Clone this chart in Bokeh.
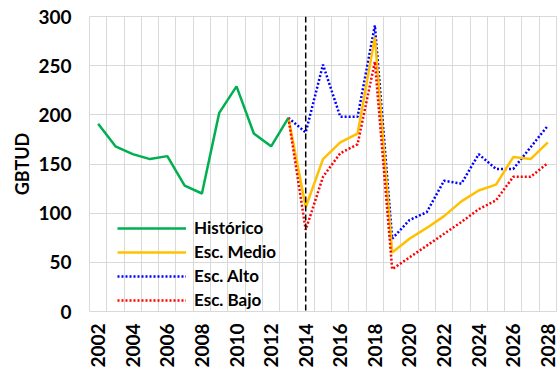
import math
from bokeh.plotting import figure
from bokeh.models import (ColumnDataSource, FixedTicker, Legend, LegendItem, Span, Range1d)
from bokeh.embed import file_html
from bokeh.resources import INLINE

# ---- data ----
hist_years = list(range(2002, 2014))
historico = [191, 168, 160, 155, 158, 128, 120, 202, 229, 181, 168, 197]

esc_years = list(range(2013, 2029))
esc_medio = [197, 106, 155, 172, 181, 279, 60, 74, 85, 97, 112, 123, 129, 157, 155, 172]
esc_alto = [197, 182, 251, 198, 198, 291, 74, 93, 101, 133, 130, 160, 145, 145, 167, 189]
esc_bajo = [197, 83, 137, 161, 170, 254, 43, 55, 67, 79, 91, 104, 113, 137, 137, 151]

x_ticks = list(range(2002, 2029, 2))
y_ticks = [0, 50, 100, 150, 200, 250, 300]
split_year = 2014

FONT = "Lato"

p = figure(frame_width=467, frame_height=295, output_backend="svg", toolbar_location=None,
           x_range=Range1d(2001.5, 2028.5), y_range=Range1d(0, 300),
           min_border_left=89, min_border_right=3, min_border_top=16, min_border_bottom=54)
p.outline_line_color = "#d9d9d9"
p.background_fill_color = "white"
p.border_fill_color = "white"

# axes
p.xaxis.ticker = FixedTicker(ticks=x_ticks)
p.yaxis.ticker = FixedTicker(ticks=y_ticks)
p.xgrid.ticker = FixedTicker(ticks=[y + 0.5 for y in range(2001, 2029)])
p.ygrid.ticker = FixedTicker(ticks=y_ticks)
for g in (p.xgrid, p.ygrid):
    g.grid_line_color = "#d9d9d9"
    g.grid_line_width = 1

for ax in (p.xaxis, p.yaxis):
    ax.axis_line_color = None
    ax.major_tick_line_color = None
    ax.minor_tick_line_color = None
    ax.major_tick_in = 0
    ax.major_tick_out = 0
    ax.major_label_text_font = FONT
    ax.major_label_text_font_style = "bold"
    ax.major_label_text_font_size = "19px"
    ax.major_label_text_color = "black"

p.xaxis.major_label_orientation = math.pi / 2
p.xaxis.major_label_standoff = 12
p.yaxis.major_label_standoff = 18
p.yaxis.axis_label = "GBTUD"
p.yaxis.axis_label_text_font = FONT
p.yaxis.axis_label_text_font_style = "bold"
p.yaxis.axis_label_text_font_size = "18px"
p.yaxis.axis_label_text_color = "black"
p.yaxis.axis_label_standoff = 2

hs = ColumnDataSource(dict(x=hist_years, y=historico))
es = ColumnDataSource(dict(x=esc_years, medio=esc_medio, alto=esc_alto, bajo=esc_bajo))

r_alto = p.line("x", "alto", source=es, line_color="#0000ff", line_width=2.5, line_dash="2 2")
r_medio = p.line("x", "medio", source=es, line_color="#ffc000", line_width=2.5)
r_bajo = p.line("x", "bajo", source=es, line_color="#ff0000", line_width=2.5, line_dash="2 2")
r_hist = p.line("x", "y", source=hs, line_color="#00b050", line_width=2.5)

p.add_layout(Span(location=split_year, dimension="height", line_color="black",
                  line_width=1.5, line_dash="6 3"))

legend = Legend(items=[
    LegendItem(label="Histórico", renderers=[r_hist]),
    LegendItem(label="Esc. Medio", renderers=[r_medio]),
    LegendItem(label="Esc. Alto", renderers=[r_alto]),
    LegendItem(label="Esc. Bajo", renderers=[r_bajo]),
], location=(28, 1))
legend.background_fill_alpha = 0
legend.border_line_color = None
legend.padding = 0
legend.margin = 0
legend.spacing = 3
legend.glyph_width = 69
legend.glyph_height = 20
legend.label_height = 20
legend.label_standoff = 8
legend.label_text_font = FONT
legend.label_text_font_style = "bold"
legend.label_text_font_size = "17px"
legend.label_text_color = "black"
p.add_layout(legend, "center")

open("out.html", "w").write(file_html(p, INLINE))
